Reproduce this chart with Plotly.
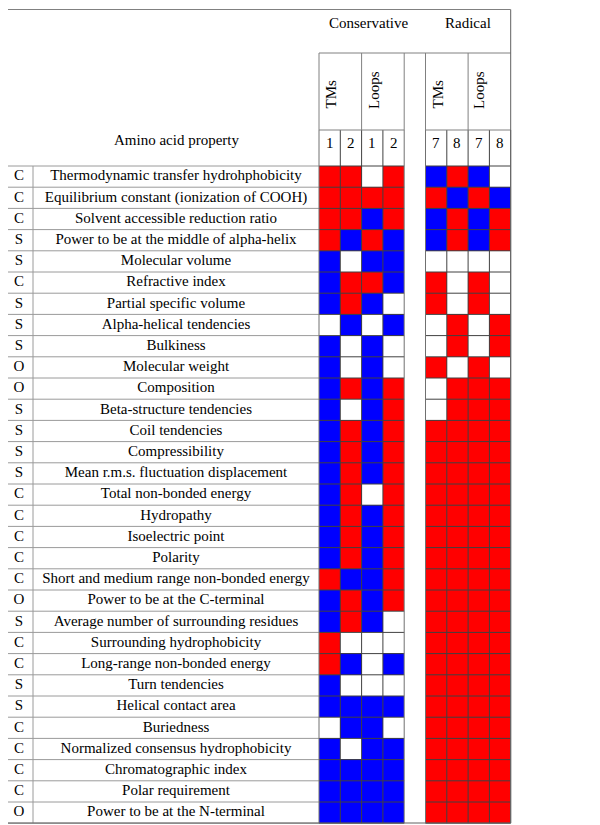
import plotly.graph_objects as go

# ---------------- data ----------------
letters = ["C", "C", "C", "S", "S", "C", "S", "S", "S", "O",
           "O", "S", "S", "S", "S", "C", "C", "C", "C", "C",
           "O", "S", "C", "C", "S", "S", "C", "C", "C", "C", "O"]

properties = [
    "Thermodynamic transfer hydrohphobicity",
    "Equilibrium constant (ionization of COOH)",
    "Solvent accessible reduction ratio",
    "Power to be at the middle of alpha-helix",
    "Molecular volume",
    "Refractive index",
    "Partial specific volume",
    "Alpha-helical tendencies",
    "Bulkiness",
    "Molecular weight",
    "Composition",
    "Beta-structure tendencies",
    "Coil tendencies",
    "Compressibility",
    "Mean r.m.s. fluctuation displacement",
    "Total non-bonded energy",
    "Hydropathy",
    "Isoelectric point",
    "Polarity",
    "Short and medium range non-bonded energy",
    "Power to be at the C-terminal",
    "Average number of surrounding residues",
    "Surrounding hydrophobicity",
    "Long-range non-bonded energy",
    "Turn tendencies",
    "Helical contact area",
    "Buriedness",
    "Normalized consensus hydrophobicity",
    "Chromatographic index",
    "Polar requirement",
    "Power to be at the N-terminal",
]

# R = red, B = blue, W = white ; columns: TMs 1, TMs 2, Loops 1, Loops 2
conservative = ["RRWR", "RRRR", "RRBR", "RBRB", "BWBB", "BRRB", "BRBW", "WBWB",
                "BWBW", "BWBW", "BRBR", "BWBR", "BRBR", "BRBR", "BRBR", "BRWR",
                "BRBR", "BRBR", "BRBR", "RBBR", "BRBR", "BRBW", "RWWW", "RBWB",
                "BWWW", "BBBB", "WBBW", "BWBB", "BBBB", "BBBB", "BBBB"]
# columns: TMs 7, TMs 8, Loops 7, Loops 8
radical = ["BRBW", "RBRB", "BRBR", "BRBR", "WWWW", "RWRW", "RWRW", "WRWR",
           "WRWR", "RWRW", "WRRR", "WRRR", "RRRR", "RRRR", "RRRR", "RRRR",
           "RRRR", "RRRR", "RRRR", "RRRR", "RRRR", "RRRR", "RRRR", "RRRR",
           "RRRR", "RRRR", "RRRR", "RRRR", "RRRR", "RRRR", "RRRR"]

col_labels_cons = ["1", "2", "1", "2"]
col_labels_rad = ["7", "8", "7", "8"]
group_labels = ["Conservative", "Radical"]
region_labels = ["TMs", "Loops", "TMs", "Loops"]
header_label = "Amino acid property"

# ---------------- geometry (page pixel layout -> axis units) ----------------
PAGE_W, PAGE_H = 600, 825
OFF = 8                        # browser body margin around the figure
W, H = PAGE_W - OFF, PAGE_H - OFF
CELL_X0, CW = 319.0, 21.3     # left edge of first cell column, column width
ROW_Y0, RH = 166.0, 21.2      # top edge of first row, row height


def ux(px):
    return -0.5 + (px - CELL_X0) / CW


def uy(py):
    return -0.5 + (py - ROW_Y0) / RH


FONT = "Liberation Serif, Times New Roman, serif"
FS = 15

code = {"W": 0, "R": 1, "B": 2}
z_cons = [[code[c] for c in row] for row in conservative]
z_rad = [[code[c] for c in row] for row in radical]
rows = list(range(len(properties)))
cons_x = [0, 1, 2, 3]
rad_x = [5, 6, 7, 8]

cscale = [[0, "#FFFFFF"], [0.3333, "#FFFFFF"], [0.3333, "#FF0000"],
          [0.6667, "#FF0000"], [0.6667, "#0000FF"], [1, "#0000FF"]]

fig = go.Figure()
for xs, z in ((cons_x, z_cons), (rad_x, z_rad)):
    fig.add_trace(go.Heatmap(z=z, x=xs, y=rows, colorscale=cscale, zmin=0, zmax=2,
                             showscale=False, hoverinfo="skip", xgap=0, ygap=0))

fig.add_trace(go.Scatter(x=[ux(19)] * len(letters), y=rows, text=letters, mode="text",
                         textfont=dict(family=FONT, size=FS, color="black"),
                         hoverinfo="skip", showlegend=False))
fig.add_trace(go.Scatter(x=[ux(176)] * len(properties), y=rows, text=properties, mode="text",
                         textfont=dict(family=FONT, size=FS, color="black"),
                         hoverinfo="skip", showlegend=False))

# ---------------- lines ----------------
shapes = []
LIGHT = "#9a9a9a"
DARK = "#404040"


def hline(y, x0, x1, color, w=1):
    shapes.append(dict(type="line", xref="x", yref="y", x0=x0, x1=x1, y0=y, y1=y,
                       line=dict(color=color, width=w), layer="above"))


def vline(x, y0, y1, color, w=1):
    shapes.append(dict(type="line", xref="x", yref="y", x0=x, x1=x, y0=y0, y1=y1,
                       line=dict(color=color, width=w), layer="above"))


xl, xr = ux(5), 8.5
yt, yb = uy(9.5), uy(823)
n = len(properties)

# row separators in the label area
for r in range(n + 1):
    hline(r - 0.5, xl, -0.5, LIGHT)
vline(ux(33), -0.5, n - 0.5, LIGHT)

# cell grid
for r in range(n + 1):
    hline(r - 0.5, -0.5, 3.5, DARK)
    hline(r - 0.5, 4.5, 8.5, DARK)
for c in [-0.5, 0.5, 1.5, 2.5, 3.5, 4.5, 5.5, 6.5, 7.5, 8.5]:
    vline(c, uy(130), n - 0.5, DARK if c not in (-0.5, 3.5, 4.5, 8.5) else "#707070")

# header lines
hline(uy(53), -0.5, xr, "#808080")
hline(uy(130), -0.5, 3.5, "#808080")
hline(uy(130), 4.5, 8.5, "#808080")
for c in [-0.5, 1.5, 3.5, 4.5, 6.5]:
    vline(c, uy(53), uy(130), "#808080")

# outer border
vline(xl, yt, yb, "#808080")
vline(xr, yt, yb, "#606060")
hline(yt, xl, xr, "#808080")
hline(yb, xl, xr, "#606060")

# ---------------- header text ----------------
ann = []
ann.append(dict(x=ux(176), y=uy(140), text=header_label, showarrow=False,
                xref="x", yref="y", font=dict(family=FONT, size=FS, color="black")))
for lbl, px in zip(group_labels, [368, 468]):
    ann.append(dict(x=ux(px), y=uy(23), text=lbl, showarrow=False, xref="x", yref="y",
                    font=dict(family=FONT, size=FS, color="black")))
for lbl, px in zip(region_labels, [330, 374, 437, 479]):
    ann.append(dict(x=ux(px), y=uy(111), text=lbl, showarrow=False, xref="x", yref="y",
                    textangle=-90, xanchor="center", yanchor="bottom",
                    font=dict(family=FONT, size=FS, color="black")))
for lbl, cx in zip(col_labels_cons + col_labels_rad, cons_x + rad_x):
    ann.append(dict(x=cx, y=uy(143), text=lbl, showarrow=False, xref="x", yref="y",
                    font=dict(family=FONT, size=FS, color="black")))

fig.update_layout(
    width=W, height=H, autosize=False,
    margin=dict(l=0, r=0, t=0, b=0),
    paper_bgcolor="white", plot_bgcolor="white",
    xaxis=dict(range=[ux(OFF), ux(PAGE_W)], visible=False, fixedrange=True),
    yaxis=dict(range=[uy(PAGE_H), uy(OFF)], visible=False, fixedrange=True),
    shapes=shapes, annotations=ann, showlegend=False,
)

fig.write_html("out.html")
